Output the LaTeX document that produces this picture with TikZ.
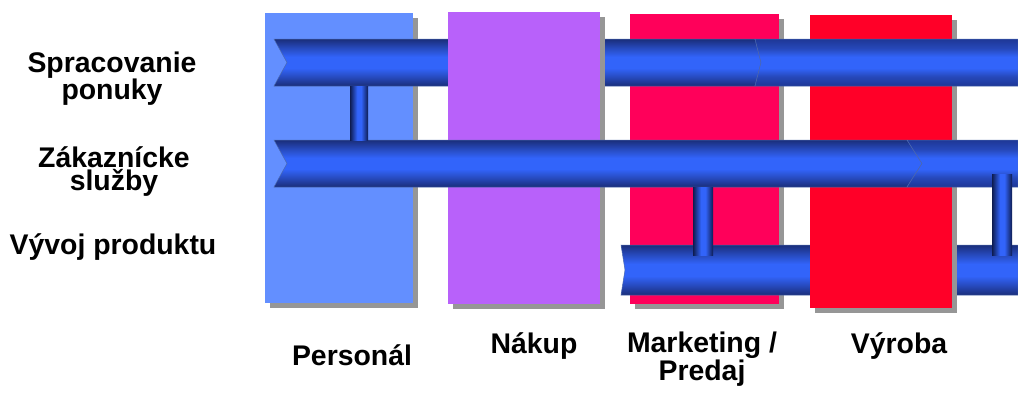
\documentclass[tikz,border=0pt]{standalone}
\usepackage{fontspec}
\setmainfont{Liberation Sans}
\definecolor{persC}{RGB}{99,143,255}
\definecolor{nakC}{RGB}{184,97,250}
\definecolor{markC}{RGB}{255,0,90}
\definecolor{vyrC}{RGB}{255,0,40}
\definecolor{shadC}{RGB}{150,150,150}
\definecolor{bdark}{RGB}{26,46,122}
\definecolor{bmid}{RGB}{38,72,185}
\definecolor{bbright}{RGB}{50,100,250}
\definecolor{bdark2}{RGB}{30,55,150}
\definecolor{pdark}{RGB}{14,28,80}
\definecolor{bedge}{RGB}{75,105,175}
\pgfdeclareverticalshading{barsh}{100bp}{color(0bp)=(bdark); color(25bp)=(bdark); color(34bp)=(bmid); color(44bp)=(bbright); color(56bp)=(bbright); color(66bp)=(bmid); color(75bp)=(bdark); color(100bp)=(bdark)}
\pgfdeclareverticalshading{barshflat}{100bp}{color(0bp)=(bdark2); color(25bp)=(bdark2); color(35bp)=(bmid); color(44bp)=(bbright); color(56bp)=(bbright); color(65bp)=(bmid); color(75bp)=(bdark2); color(100bp)=(bdark2)}
\pgfdeclarehorizontalshading{pipesh}{100bp}{color(0bp)=(pdark); color(25bp)=(pdark); color(45bp)=(bbright); color(56bp)=(bbright); color(75bp)=(pdark); color(100bp)=(pdark)}
\begin{document}
\begin{tikzpicture}[x=1pt,y=-1pt,
  lbl/.style={font=\bfseries\fontsize{28.4}{22.8}\selectfont, align=center, inner sep=0pt, anchor=base},
  barseg/.style={shading=barsh, draw=bedge, line width=0.5pt},
  barflat/.style={shading=barshflat, draw=bedge, line width=0.5pt},
  pipe/.style={shading=pipesh, shading angle=0}]
\useasboundingbox (0,0) rectangle (1018,392);
\fill[white] (0,0) rectangle (1018,392);
% Personal
\fill[shadC] (270,18) rectangle (418,308);
\fill[persC] (265,13) rectangle (413,303);
% Marketing
\fill[shadC] (635,19) rectangle (784,309);
\fill[markC] (630,14) rectangle (779,304);
% bar 3
\path[barseg] (621,245) -- (1018,245) -- (1018,295) -- (621,295) -- (625,270) -- cycle;
% Vyroba
\fill[shadC] (815,20) rectangle (957,313);
\fill[vyrC] (810,15) rectangle (952,308);
% bar 1
\path[barseg] (274,39) -- (755,39) -- (761,62.5) -- (755,86) -- (274,86) -- (287,62.5) -- cycle;
\path[barflat] (755,39) -- (1018,39) -- (1018,86) -- (755,86) -- (761,62.5) -- cycle;
% Nakup
\fill[shadC] (453,17) rectangle (605,309);
\fill[nakC] (448,12) rectangle (600,304);
% bar 2
\path[barseg] (274,140) -- (907,140) -- (922,163.5) -- (907,187) -- (274,187) -- (287,163.5) -- cycle;
\path[barflat] (907,140) -- (1018,140) -- (1018,187) -- (907,187) -- (922,163.5) -- cycle;
% pipes
\path[pipe] (350,86) rectangle (368,140);
\path[pipe] (693,187) rectangle (713,255);
\path[pipe] (992,174) rectangle (1012,255);
% labels (base = baseline of last line)
\node[lbl] (sp) at (112,99.5) {Spracovanie\\ponuky};
\node[lbl] (zs) at (114,190) {Zákaznícke\\služby};
\node[lbl] (vp) at (113,254) {Vývoj produktu};
\node[lbl] (pe) at (352,365) {Personál};
\node[lbl] (na) at (534,353) {Nákup};
\node[lbl] (mp) at (702,380.5) {Marketing /\\Predaj};
\node[lbl] (vy) at (899,353) {Výroba};
\end{tikzpicture}
\end{document}
